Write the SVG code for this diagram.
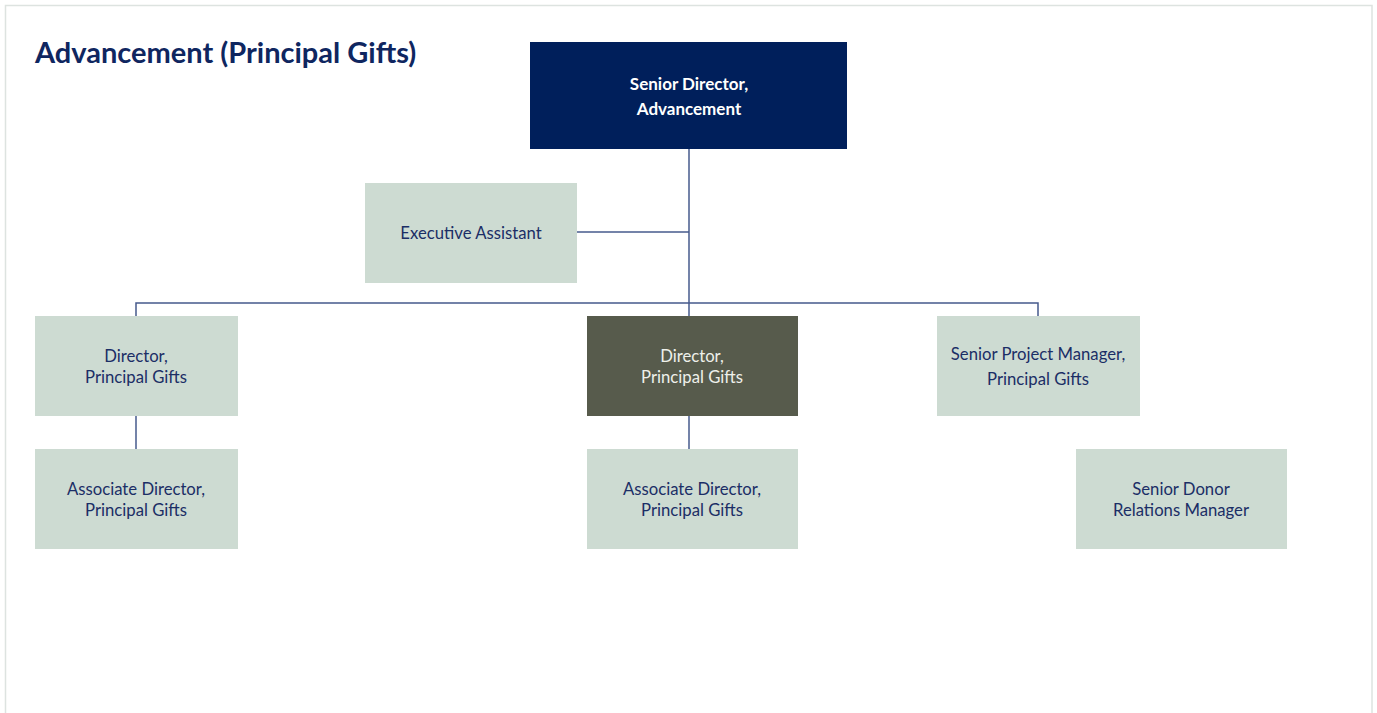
<svg xmlns="http://www.w3.org/2000/svg" width="1377" height="713" viewBox="0 0 1377 713">
<style>
.bg{fill:#ffffff}
.frame{fill:none;stroke:#dde3e0;stroke-width:1.5}
.light{fill:#cddbd2}
.navy{fill:#001f5b}
.dark{fill:#575b4c}
text{font-family:Lato,"Noto Sans","Liberation Sans",sans-serif;font-size:16.7px;text-anchor:middle;fill:#1b2e66}
.title{font-size:29px;font-weight:bold;text-anchor:start;fill:#0f2660}
.w{fill:#ffffff;font-weight:bold;font-size:17px}
.wl{fill:#eef0ea}
.conn{fill:none;stroke:#465a8c;stroke-width:1.5}
</style>
<rect class="bg" x="0" y="0" width="1377" height="713"/>
<rect class="frame" x="5.5" y="5.5" width="1366.5" height="720"/>
<text class="title" x="35" y="63">Advancement (Principal Gifts)</text>
<g id="connectors">
<path class="conn" d="M689 149 V316"/>
<path class="conn" d="M577 232 H689"/>
<path class="conn" d="M136 316 V303 H1038 V316"/>
<path class="conn" d="M136 416 V449"/>
<path class="conn" d="M689 416 V449"/>
</g>
<g id="senior-director">
<rect class="navy" x="530" y="42" width="317" height="107"/>
<text class="w" x="689" y="89.5">Senior Director,</text>
<text class="w" x="689" y="114.5">Advancement</text>
</g>
<g id="executive-assistant">
<rect class="light" x="365" y="183" width="212" height="100"/>
<text x="471" y="238.5">Executive Assistant</text>
</g>
<g id="director-left">
<rect class="light" x="35" y="316" width="203" height="100"/>
<text x="136" y="361.5">Director,</text>
<text x="136" y="382.5">Principal Gifts</text>
</g>
<g id="associate-left">
<rect class="light" x="35" y="449" width="203" height="100"/>
<text x="136" y="494.5">Associate Director,</text>
<text x="136" y="515.5">Principal Gifts</text>
</g>
<g id="director-middle">
<rect class="dark" x="587" y="316" width="211" height="100"/>
<text class="wl" x="692" y="361.5">Director,</text>
<text class="wl" x="692" y="382.5">Principal Gifts</text>
</g>
<g id="associate-middle">
<rect class="light" x="587" y="449" width="211" height="100"/>
<text x="692" y="494.5">Associate Director,</text>
<text x="692" y="515.5">Principal Gifts</text>
</g>
<g id="senior-project-manager">
<rect class="light" x="937" y="316" width="203" height="100"/>
<text x="1038" y="359.5">Senior Project Manager,</text>
<text x="1038" y="384.5">Principal Gifts</text>
</g>
<g id="senior-donor-relations">
<rect class="light" x="1076" y="449" width="211" height="100"/>
<text x="1181" y="494.5">Senior Donor</text>
<text x="1181" y="515.5">Relations Manager</text>
</g>
</svg>
